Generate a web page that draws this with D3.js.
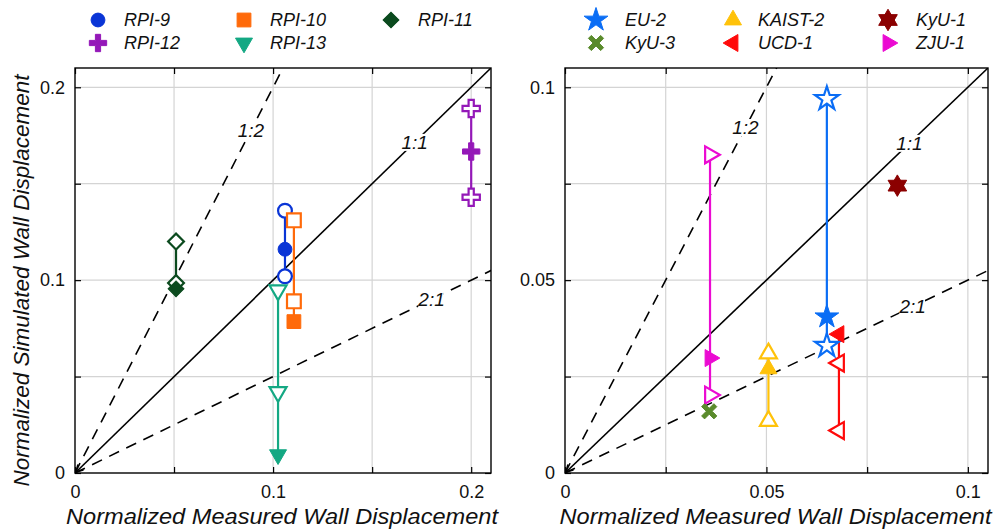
<!DOCTYPE html>
<html>
<head>
<meta charset="utf-8">
<script src="https://cdn.jsdelivr.net/npm/d3@7"></script>
<style>
  html, body { margin: 0; padding: 0; background: #fff; }
  svg { display: block; font-family: "Liberation Sans", Arial, sans-serif; }
</style>
</head>
<body>
<svg id="chart" width="998" height="532"></svg>
<script>
// ---- RPI centrifuge tests (left panel) ----
const rpiNames    = ["RPI-9", "RPI-10", "RPI-11", "RPI-12", "RPI-13"];
const rpiMeasured = [0.106, 0.1105, 0.051, 0.200, 0.1025];
const rpiSimHigh  = [0.136, 0.131, 0.120, 0.189, 0.0947];
const rpiSimLow   = [0.102, 0.089, 0.0985, 0.143, 0.042];
const rpiSimMean  = [0.116, 0.0785, 0.0955, 0.1667, 0.0095];
const rpiColors   = ["#0a35d6", "#ff6a0a", "#0b4a1e", "#9418b8", "#14a883"];
const rpiShapes   = ["circle", "square", "diamond", "plus", "triDown"];

// ---- Other centrifuge tests (right panel) ----
const othNames    = ["EU-2", "KAIST-2", "KyU-1", "KyU-3", "UCD-1", "ZJU-1"];
const othMeasured = [0.065, 0.0505, 0.0825, 0.0358, 0.068, 0.036];
const othSimHigh  = [0.097, 0.031, null, null, 0.0285, 0.0825];
const othSimLow   = [0.033, 0.0135, null, null, 0.011, 0.0202];
const othSimMean  = [0.0405, 0.027, 0.0745, 0.016, 0.036, 0.0298];
const othColors   = ["#0a6df5", "#ffc20a", "#8b0000", "#5a8b2c", "#ff0a0a", "#eb0ad2"];
const othShapes   = ["star", "triUp", "hexagram", "times", "triLeft", "triRight"];

// Legend order (two rows of three)
const rpiLegendOrder = ["RPI-9", "RPI-10", "RPI-11", "RPI-12", "RPI-13"];
const othLegendOrder = ["EU-2", "KAIST-2", "KyU-1", "KyU-3", "UCD-1", "ZJU-1"];

// Axis tick values
const leftGrid   = [0, 0.05, 0.1, 0.15, 0.2];
const leftLabels = [0, 0.1, 0.2];
const rightGrid   = [0, 0.025, 0.05, 0.075, 0.1];
const rightLabels = [0, 0.05, 0.1];

const xTitle = "Normalized Measured Wall Displacement";
const yTitle = "Normalized Simulated Wall Displacement";

const svg = d3.select("#chart");

// ---- marker shapes ----
const hexagramType = {
  draw(ctx, size) {
    const r = Math.sqrt(size) * 0.62;
    for (const off of [-Math.PI / 2, Math.PI / 2]) {
      for (let i = 0; i < 3; i++) {
        const a = off + i * 2 * Math.PI / 3;
        const px = r * Math.cos(a), py = r * Math.sin(a);
        if (i === 0) ctx.moveTo(px, py); else ctx.lineTo(px, py);
      }
      ctx.closePath();
    }
  }
};
const crossOutline = (r, w) => [[-w, -r], [w, -r], [w, -w], [r, -w], [r, w], [w, w], [w, r], [-w, r], [-w, w], [-r, w], [-r, -w], [-w, -w]];
const timesType = {
  draw(ctx, size) {
    const r = Math.sqrt(size) * 0.5, w = r * 0.24;
    const c = Math.SQRT1_2;
    crossOutline(r, w).forEach(([x, y], i) => {
      const X = c * (x - y), Y = c * (x + y);
      if (i === 0) ctx.moveTo(X, Y); else ctx.lineTo(X, Y);
    });
    ctx.closePath();
  }
};
const plusType = {
  draw(ctx, size) {
    const r = Math.sqrt(size) * 0.5, w = r * 0.3;
    crossOutline(r, w).forEach(([x, y], i) => { if (i === 0) ctx.moveTo(x, y); else ctx.lineTo(x, y); });
    ctx.closePath();
  }
};

function markerPath(shape) {
  switch (shape) {
    case "circle":   return { d: d3.symbol(d3.symbolCircle, 150)(), rot: 0 };
    case "square":   return { d: d3.symbol(d3.symbolSquare, 190)(), rot: 0 };
    case "diamond":  return { d: d3.symbol(d3.symbolSquare, 125)(), rot: 45 };
    case "plus":     return { d: d3.symbol(plusType, 300)(), rot: 0 };
    case "triDown":  return { d: d3.symbol(d3.symbolTriangle, 125)(), rot: 180 };
    case "triUp":    return { d: d3.symbol(d3.symbolTriangle, 125)(), rot: 0 };
    case "triLeft":  return { d: d3.symbol(d3.symbolTriangle, 125)(), rot: -90 };
    case "triRight": return { d: d3.symbol(d3.symbolTriangle, 125)(), rot: 90 };
    case "star":     return { d: d3.symbol(d3.symbolStar, 175)(), rot: 0 };
    case "hexagram": return { d: d3.symbol(hexagramType, 300)(), rot: 0 };
    case "times":    return { d: d3.symbol(timesType, 300)(), rot: 0 };
  }
}

function drawMarker(g, x, y, shape, color, filled) {
  const m = markerPath(shape);
  g.append("path")
    .attr("d", m.d)
    .attr("transform", `translate(${x},${y}) rotate(${m.rot})`)
    .attr("fill", filled ? color : "#fff")
    .attr("stroke", color)
    .attr("stroke-width", filled ? 1 : 2.2)
    .attr("stroke-linejoin", "miter");
}

// ---- one panel ----
function panel(opt) {
  const { left, top, width, height, max, grid, labels, fmt } = opt;
  const x = d3.scaleLinear().domain([0, max]).range([left, left + width]);
  const y = d3.scaleLinear().domain([0, max]).range([top + height, top]);
  const g = svg.append("g");

  const clipId = "clip" + left;
  svg.append("clipPath").attr("id", clipId)
    .append("rect").attr("x", left).attr("y", top).attr("width", width).attr("height", height);

  // grid
  const gridG = g.append("g");
  gridG.selectAll(".gx").data(grid.filter(v => v > 0)).join("line")
    .attr("x1", d => x(d)).attr("x2", d => x(d))
    .attr("y1", top).attr("y2", top + height)
    .attr("stroke", "#d4d4d4").attr("stroke-width", 1.2);
  gridG.selectAll(".gy").data(grid.filter(v => v > 0)).join("line")
    .attr("y1", d => y(d)).attr("y2", d => y(d))
    .attr("x1", left).attr("x2", left + width)
    .attr("stroke", "#d4d4d4").attr("stroke-width", 1.2);

  // axes with inward ticks on all four sides
  const tickLen = 6;
  const fmtTick = d => labels.some(l => Math.abs(l - d) < 1e-9) ? fmt(d) : "";
  const styleAxis = a => {
    a.select(".domain").remove();
    a.selectAll(".tick line").attr("stroke", "#000").attr("stroke-width", 1.2);
    a.selectAll(".tick text").attr("font-size", 18).attr("fill", "#111")
      .attr("font-family", "'Liberation Sans', Arial, sans-serif");
  };
  g.append("g").attr("transform", `translate(0,${top + height})`)
    .call(d3.axisBottom(x).tickValues(grid).tickSize(-tickLen).tickPadding(12).tickFormat(fmtTick))
    .call(styleAxis);
  g.append("g").attr("transform", `translate(0,${top})`)
    .call(d3.axisTop(x).tickValues(grid).tickSize(-tickLen).tickFormat(""))
    .call(styleAxis);
  g.append("g").attr("transform", `translate(${left},0)`)
    .call(d3.axisLeft(y).tickValues(grid).tickSize(-tickLen).tickPadding(10).tickFormat(fmtTick))
    .call(styleAxis);
  g.append("g").attr("transform", `translate(${left + width},0)`)
    .call(d3.axisRight(y).tickValues(grid).tickSize(-tickLen).tickFormat(""))
    .call(styleAxis);

  // reference lines 1:1, 1:2, 2:1
  const refG = g.append("g").attr("clip-path", `url(#${clipId})`);
  const refs = [
    { k: 1, dash: null, label: "1:1", at: opt.lab11 },
    { k: 2, dash: "11,8", label: "1:2", at: opt.lab12 },
    { k: 0.5, dash: "11,8", label: "2:1", at: opt.lab21 }
  ];
  refs.forEach(r => {
    refG.append("line")
      .attr("x1", x(0)).attr("y1", y(0))
      .attr("x2", x(max * 2)).attr("y2", y(max * 2 * r.k))
      .attr("stroke", "#000").attr("stroke-width", 1.6)
      .attr("stroke-dasharray", r.dash);
  });
  // arrowhead at origin on the 1:1 line
  const ox = x(0), oy = y(0), ah = 9;
  const ang = -Math.PI / 4;
  g.append("path")
    .attr("d", `M${ox + ah * Math.cos(ang - 0.45)},${oy + ah * Math.sin(ang - 0.45)}L${ox + 1},${oy - 1}L${ox + ah * Math.cos(ang + 0.45)},${oy + ah * Math.sin(ang + 0.45)}`)
    .attr("fill", "none").attr("stroke", "#000").attr("stroke-width", 1.6);

  refs.forEach(r => {
    const lx = x(r.at), ly = y(r.at * r.k);
    const t = g.append("text")
      .attr("x", lx).attr("y", ly).attr("dy", "0.35em")
      .attr("text-anchor", "middle")
      .attr("font-size", 19).attr("font-style", "italic").attr("fill", "#111")
      .text(r.label);
    const bb = t.node().getBBox();
    g.insert("rect", () => t.node())
      .attr("x", bb.x + 1).attr("y", bb.y + 2)
      .attr("width", bb.width - 2).attr("height", bb.height - 4)
      .attr("fill", "#fff");
  });

  // box
  g.append("rect").attr("x", left).attr("y", top).attr("width", width).attr("height", height)
    .attr("fill", "none").attr("stroke", "#000").attr("stroke-width", 1.4);

  // x title
  g.append("text")
    .attr("x", left + width / 2 - 1).attr("y", top + height + 51)
    .attr("text-anchor", "middle").attr("font-size", 22).attr("font-style", "italic").attr("fill", "#111")
    .attr("textLength", 432).attr("lengthAdjust", "spacingAndGlyphs")
    .text(xTitle);

  return { x, y, g };
}

function drawTests(p, names, meas, hi, lo, mean, colors, shapes) {
  const dg = p.g.append("g");
  names.forEach((n, i) => {
    const vals = [hi[i], lo[i], mean[i]].filter(v => v !== null);
    if (vals.length > 1) {
      dg.append("line")
        .attr("x1", p.x(meas[i])).attr("x2", p.x(meas[i]))
        .attr("y1", p.y(d3.max(vals))).attr("y2", p.y(d3.min(vals)))
        .attr("stroke", colors[i]).attr("stroke-width", 2.2);
    }
  });
  names.forEach((n, i) => {
    [hi[i], lo[i]].forEach(v => {
      if (v !== null) drawMarker(dg, p.x(meas[i]), p.y(v), shapes[i], colors[i], false);
    });
  });
  names.forEach((n, i) => {
    drawMarker(dg, p.x(meas[i]), p.y(mean[i]), shapes[i], colors[i], true);
  });
}

function legend(order, names, colors, shapes, cols, rowY) {
  order.forEach((n, k) => {
    const i = names.indexOf(n);
    const c = cols[k % 3], ry = rowY[Math.floor(k / 3)];
    const lg = svg.append("g");
    drawMarker(lg, c.mx, ry, shapes[i], colors[i], true);
    lg.append("text").attr("x", c.tx).attr("y", ry).attr("dy", "0.35em")
      .attr("font-size", 18).attr("font-style", "italic").attr("fill", "#111")
      .text(n);
  });
}

// left panel
const pL = panel({
  left: 75, top: 68, width: 416, height: 405, max: 0.21,
  grid: leftGrid, labels: leftLabels, fmt: d => d === 0 ? "0" : d3.format(".1f")(d),
  lab11: 0.1715, lab12: 0.0888, lab21: 0.180
});
drawTests(pL, rpiNames, rpiMeasured, rpiSimHigh, rpiSimLow, rpiSimMean, rpiColors, rpiShapes);

// right panel
const pR = panel({
  left: 565, top: 68, width: 423, height: 405, max: 0.105,
  grid: rightGrid, labels: rightLabels, fmt: d => d === 0 ? "0" : d3.format("~g")(d),
  lab11: 0.0855, lab12: 0.0448, lab21: 0.0863
});
drawTests(pR, othNames, othMeasured, othSimHigh, othSimLow, othSimMean, othColors, othShapes);

// y title (left panel only)
svg.append("text")
  .attr("transform", `translate(29,${68 + 405 / 2 + 10}) rotate(-90)`)
  .attr("text-anchor", "middle").attr("font-size", 22).attr("font-style", "italic").attr("fill", "#111")
  .attr("textLength", 412).attr("lengthAdjust", "spacingAndGlyphs")
  .text(yTitle);

// legends
legend(rpiLegendOrder, rpiNames, rpiColors, rpiShapes,
  [{ mx: 98, tx: 124 }, { mx: 244, tx: 270 }, { mx: 391, tx: 418 }], [20, 43]);
legend(othLegendOrder, othNames, othColors, othShapes,
  [{ mx: 596, tx: 625 }, { mx: 733, tx: 758 }, { mx: 888, tx: 916 }], [20, 43]);
</script>
</body>
</html>
